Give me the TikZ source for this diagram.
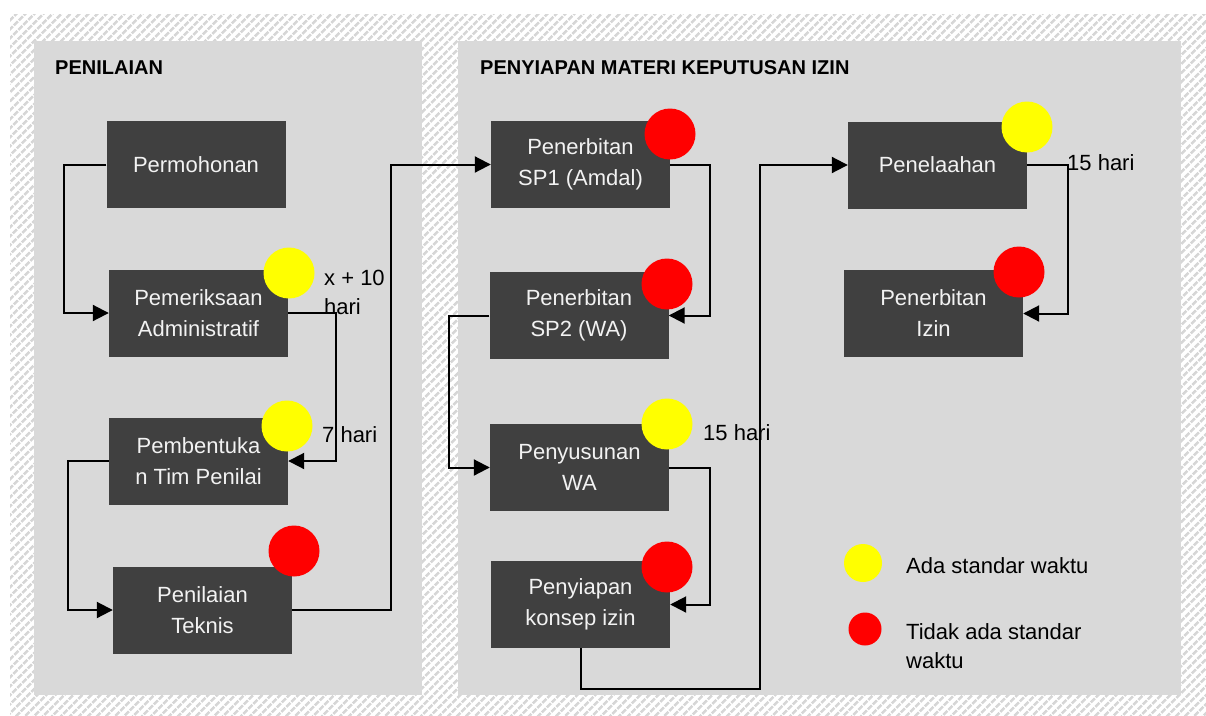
\documentclass[tikz,border=0pt]{standalone}
\usepackage{fontspec}
\setmainfont{Liberation Sans}
\usetikzlibrary{arrows.meta,patterns.meta}
\definecolor{panelgray}{HTML}{D9D9D9}
\definecolor{boxgray}{HTML}{404040}
\definecolor{boxtext}{HTML}{F2F2F2}
\definecolor{dotyellow}{HTML}{FFFF00}
\definecolor{dotred}{HTML}{FF0000}
\begin{document}
\begin{tikzpicture}[x=1pt,y=-1pt,
  panel/.style={fill=panelgray,draw=none},
  stepbox/.style={fill=boxgray,text=boxtext,minimum width=179pt,minimum height=87pt,
    inner sep=0pt,align=center,font=\fontsize{22}{31}\selectfont},
  ydot/.style={circle,fill=dotyellow,minimum size=51pt,inner sep=0pt},
  rdot/.style={circle,fill=dotred,minimum size=51pt,inner sep=0pt},
  link/.style={line width=2pt,-{Triangle[length=16pt,width=16pt]}},
  lbl/.style={anchor=base west,inner sep=0pt,font=\fontsize{22}{26}\selectfont},
  head/.style={anchor=base west,inner sep=0pt,font=\fontsize{20}{24}\selectfont\bfseries}]

% page and hatched frame
\useasboundingbox (0,0) rectangle (1206,715);
\fill[white] (0,0) rectangle (1206,715);
\fill[pattern={Lines[angle=45,distance=6.5pt,line width=2.8pt]},pattern color=black!16]
  (10,14) rectangle (1206,715);

% the two phases
\fill[panel] (34,41) rectangle (422,695);
\fill[panel] (458,41) rectangle (1181,695);
\node[head] (h1) at (55,74) {PENILAIAN};
\node[head] (h2) at (480,74) {PENYIAPAN MATERI KEPUTUSAN IZIN};

% process steps
\node[stepbox] (perm) at (196,164.5) {Permohonan};
\node[stepbox] (pem)  at (198.5,313) {Pemeriksaan\\Administratif};
\node[stepbox] (pemb) at (198.5,461) {Pembentuka\\n Tim Penilai};
\node[stepbox] (pt)   at (202.5,610) {Penilaian\\Teknis};
\node[stepbox] (sp1)  at (580.5,164.5) {Penerbitan\\SP1 (Amdal)};
\node[stepbox] (sp2)  at (579,315.5) {Penerbitan\\SP2 (WA)};
\node[stepbox] (pws)  at (579.5,467.5) {Penyusunan\\WA};
\node[stepbox] (pki)  at (580.5,604.5) {Penyiapan\\konsep izin};
\node[stepbox] (pnl)  at (937.5,165) {Penelaahan};
\node[stepbox] (piz)  at (933.5,313.5) {Penerbitan\\Izin};

% flow between the steps
\draw[link] (perm.west) -- ++(-42,0) |- (pem.west);
\draw[link] (pem.east) -- ++(48,0) |- (pemb.east);
\draw[link] (pemb.west) -- ++(-41,0) |- (pt.west);
\draw[link] (pt.east) -- ++(99,0) |- (sp1.west);
\draw[link] (sp1.east) -- ++(40,0) |- (sp2.east);
\draw[link] (sp2.west) -- ++(-40,0) |- (pws.west);
\draw[link] (pws.east) -- ++(41,0) |- (pki.east);
\draw[link] (pki.south) -- ++(0,41) -- ++(179,0) |- (pnl.west);
\draw[link] (pnl.east) -- ++(41,0) |- (piz.east);

% time standard markers
\node[ydot] (d1) at (289,273) {};
\node[ydot] (d2) at (287,426) {};
\node[rdot] (d3) at (294,551) {};
\node[rdot] (d4) at (670,134) {};
\node[rdot] (d5) at (667,284) {};
\node[ydot] (d6) at (667,424) {};
\node[rdot] (d7) at (667,567) {};
\node[ydot] (d8) at (1027,127) {};
\node[rdot] (d9) at (1019,272) {};

% durations
\node[lbl] (t1a) at (324,285) {x + 10};
\node[lbl] (t1b) at (324,314) {hari};
\node[lbl] (t2) at (322,442) {7 hari};
\node[lbl] (t3) at (703,440) {15 hari};
\node[lbl] (t4) at (1067,170) {15 hari};

% legend
\node[circle,fill=dotyellow,minimum size=38pt,inner sep=0pt] (ly) at (863,563) {};
\node[circle,fill=dotred,minimum size=33pt,inner sep=0pt] (lr) at (865,629) {};
\node[lbl] (ty) at (906,573) {Ada standar waktu};
\node[lbl] (tr1) at (906,639) {Tidak ada standar};
\node[lbl] (tr2) at (906,668) {waktu};
\end{tikzpicture}
\end{document}
